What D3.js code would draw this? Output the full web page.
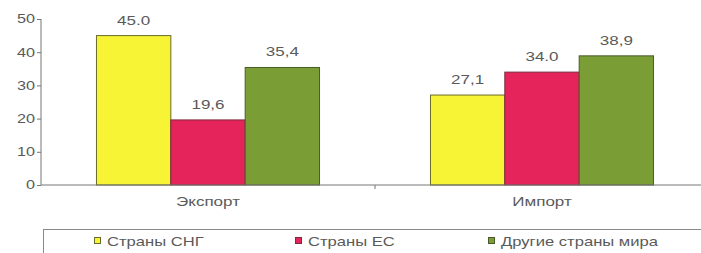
<!DOCTYPE html>
<html><head><meta charset="utf-8">
<script src="https://cdn.jsdelivr.net/npm/d3@7"></script>
<style>body{margin:0;background:#fff}svg{display:block}text{font-family:"Liberation Sans",Arial,sans-serif}</style>
</head><body><svg width="701" height="253"></svg>
<script>
const categories = ["Экспорт", "Импорт"];
const series = ["Страны СНГ", "Страны ЕС", "Другие страны мира"];
const values = [[45.0, 19.6, 35.4], [27.1, 34.0, 38.9]];
const valueLabels = [["45.0", "19,6", "35,4"], ["27,1", "34.0", "38,9"]];
const yTicks = [0, 10, 20, 30, 40, 50];
const colors = ["#f6f435", "#e6245c", "#7b9d35"];
const strokes = ["#6a6a2a", "#7a2a3a", "#4a5a2a"];

const svg = d3.select("svg");
const y = d3.scaleLinear().domain([0, 50]).range([185, 19]);
const x0 = d3.scaleBand().domain(categories).range([41, 709]).padding(0);
const x1 = d3.scaleBand().domain(series).range([0, x0.bandwidth()]).paddingInner(0).paddingOuter(0.746);

function stext(parent, x, yy, anchor, sx, size, txt) {
  return parent.append("text")
    .attr("transform", `translate(${x},${yy}) scale(${sx},1)`)
    .attr("text-anchor", anchor).attr("fill", "#5a5a5a")
    .style("font-size", size + "px").text(txt);
}

// y axis
const ya = svg.append("g").attr("transform", "translate(41,0)")
  .call(d3.axisLeft(y).tickValues(yTicks).tickSize(4).tickPadding(3).tickFormat(d3.format("d")));
ya.select(".domain").attr("stroke", "#777").attr("d", "M0," + y(50) + "V" + y(0));
ya.selectAll(".tick line").attr("stroke", "#777");
ya.selectAll(".tick text").remove();
yTicks.forEach(t => stext(svg, 35, y(t) + 4.3, "end", 1.35, 12, d3.format("d")(t)));

// bars
const g = svg.append("g");
categories.forEach((c, ci) => {
  series.forEach((s, si) => {
    const v = values[ci][si];
    const bx = x0(c) + x1(s);
    g.append("rect").attr("x", bx).attr("y", y(v)).attr("width", x1.bandwidth())
      .attr("height", y(0) - y(v)).attr("fill", colors[si]).attr("stroke", strokes[si]).attr("stroke-width", 1);
    stext(g, bx + x1.bandwidth() / 2, y(v) - 11, "middle", 1.42, 12, valueLabels[ci][si]);
  });
});

// x axis baseline
svg.append("line").attr("x1", 41).attr("x2", 701).attr("y1", y(0)).attr("y2", y(0)).attr("stroke", "#777");
svg.append("line").attr("x1", x0(categories[1])).attr("x2", x0(categories[1])).attr("y1", y(0)).attr("y2", y(0) + 4).attr("stroke", "#777");
categories.forEach(c => stext(svg, x0(c) + x0.bandwidth() / 2, 206, "middle", 1.42, 12, c));

// legend
svg.append("rect").attr("x", 43.5).attr("y", 229.5).attr("width", 700).attr("height", 40)
  .attr("fill", "none").attr("stroke", "#888");
const legX = [94, 295, 488];
series.forEach((s, si) => {
  svg.append("rect").attr("x", legX[si] + 0.5).attr("y", 237.5).attr("width", 6).attr("height", 6)
    .attr("fill", colors[si]).attr("stroke", strokes[si]);
  stext(svg, legX[si] + 13, 246, "start", 1.33, 12.5, s);
});
</script></body></html>
